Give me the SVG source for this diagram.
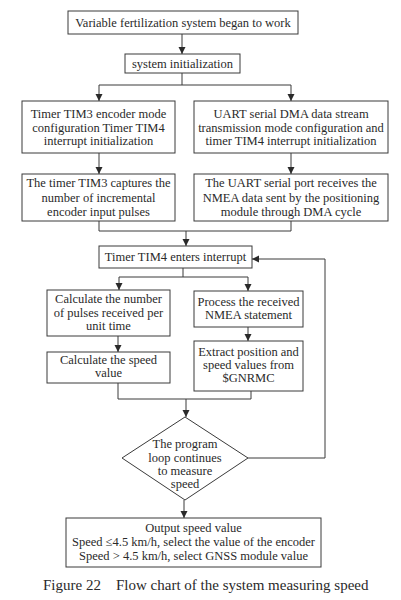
<svg xmlns="http://www.w3.org/2000/svg" width="401" height="600" viewBox="0 0 401 600">
<style>
rect.b{fill:#fff;stroke:#3a3a3a;stroke-width:1}
polygon.d{fill:#fff;stroke:#3a3a3a;stroke-width:1}
text{font-size:12.5px;fill:#2a2a2a;text-anchor:middle}
text.cap{font-size:15px;text-anchor:start}
.c path{fill:none;stroke:#3a3a3a;stroke-width:1}
</style>
<defs>
<marker id="ah" markerUnits="userSpaceOnUse" markerWidth="8" markerHeight="8" refX="7" refY="4" orient="auto">
<path d="M0,0.5 L7,4 L0,7.5 z" fill="#2a2a2a"/>
</marker>
</defs>
<rect width="401" height="600" fill="#fff"/>
<g class="c">
<path d="M182,34 V54" marker-end="url(#ah)"/>
<path d="M182,73 V85 M99,85 H291"/>
<path d="M99,85 V101" marker-end="url(#ah)"/>
<path d="M291,85 V101" marker-end="url(#ah)"/>
<path d="M99,153 V174" marker-end="url(#ah)"/>
<path d="M291,153 V174" marker-end="url(#ah)"/>
<path d="M99,221 V231 H291 V221"/>
<path d="M186,231 V246" marker-end="url(#ah)"/>
<path d="M183,268 V277 M119,277 H248"/>
<path d="M119,277 V290" marker-end="url(#ah)"/>
<path d="M248,277 V291" marker-end="url(#ah)"/>
<path d="M118,336 V352" marker-end="url(#ah)"/>
<path d="M248,327 V341" marker-end="url(#ah)"/>
<path d="M118,383 V399 H251 V391"/>
<path d="M186,399 V417" marker-end="url(#ah)"/>
<path d="M248,458 H325 V259 H252" marker-end="url(#ah)"/>
<path d="M184,500 V518" marker-end="url(#ah)"/>
</g>
<g font-family="Liberation Serif, Tinos, DejaVu Serif, Noto Serif, serif">
<g id="n1"><rect class="b" x="68" y="11" width="230" height="23"/><text x="183" y="27">Variable fertilization system began to work</text></g>
<g id="n2"><rect class="b" x="125" y="54" width="115" height="19"/><text x="182.5" y="68">system initialization</text></g>
<g id="n3"><rect class="b" x="22" y="101" width="153" height="52"/>
<text x="98.5" y="118">Timer TIM3 encoder mode</text><text x="98.5" y="132">configuration Timer TIM4</text><text x="98.5" y="145">interrupt initialization</text></g>
<g id="n4"><rect class="b" x="194" y="101" width="194" height="52"/>
<text x="291" y="118">UART serial DMA data stream</text><text x="291" y="132">transmission mode configuration and</text><text x="291" y="145">timer TIM4 interrupt initialization</text></g>
<g id="n5"><rect class="b" x="22" y="174" width="153" height="47"/>
<text x="98.5" y="187">The timer TIM3 captures the</text><text x="98.5" y="202">number of incremental</text><text x="98.5" y="216">encoder input pulses</text></g>
<g id="n6"><rect class="b" x="194" y="174" width="194" height="47"/>
<text x="291" y="187">The UART serial port receives the</text><text x="291" y="202">NMEA data sent by the positioning</text><text x="291" y="216">module through DMA cycle</text></g>
<g id="n7"><rect class="b" x="99" y="246" width="153" height="22"/><text x="175.5" y="261">Timer TIM4 enters interrupt</text></g>
<g id="n8"><rect class="b" x="47" y="290" width="123" height="46"/>
<text x="108.5" y="303">Calculate the number</text><text x="108.5" y="317">of pulses received per</text><text x="108.5" y="330">unit time</text></g>
<g id="n9"><rect class="b" x="194" y="291" width="109" height="36"/>
<text x="248.5" y="306">Process the received</text><text x="248.5" y="319">NMEA statement</text></g>
<g id="n10"><rect class="b" x="47" y="352" width="123" height="31"/>
<text x="108.5" y="364">Calculate the speed</text><text x="108.5" y="377">value</text></g>
<g id="n11"><rect class="b" x="194" y="341" width="109" height="50"/>
<text x="248.5" y="356">Extract position and</text><text x="248.5" y="369">speed values from</text><text x="248.5" y="382">$GNRMC</text></g>
<g id="n12"><polygon class="d" points="185,417 248,458 185,500 122,458"/>
<text x="185" y="448">The program</text><text x="185" y="462">loop continues</text><text x="185" y="475">to measure</text><text x="185" y="488">speed</text></g>
<g id="n13"><rect class="b" x="66" y="518" width="255" height="49"/>
<text x="193.5" y="532">Output speed value</text><text x="193.5" y="546">Speed ≤4.5 km/h, select the value of the encoder</text><text x="193.5" y="560">Speed &gt; 4.5 km/h, select GNSS module value</text></g>
<text class="cap" x="43" y="590">Figure 22</text>
<text class="cap" x="116" y="590">Flow chart of the system measuring speed</text>
</g>
</svg>
